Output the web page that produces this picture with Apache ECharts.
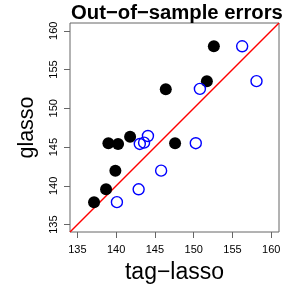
<!DOCTYPE html>
<html><head><meta charset="utf-8">
<script src="https://cdn.jsdelivr.net/npm/echarts@6/dist/echarts.min.js"></script>
<style>html,body{margin:0;padding:0;background:#fff}#c{width:291px;height:291px}</style>
</head><body><div id="c"></div>
<script>
const titleText = 'Out\u2212of\u2212sample errors';
const xName = 'tag\u2212lasso';
const yName = 'glasso';
const limits = [134.05, 161.0];
const tickValues = [135, 140, 145, 150, 155, 160];
const blackX = [137.15, 138.7, 139.9, 139.0, 140.25, 141.8, 146.4, 147.6, 151.7, 152.6];
const blackY = [137.9, 139.56, 141.96, 145.5, 145.4, 146.34, 152.45, 145.5, 153.5, 158.0];
const blueX = [140.1, 142.9, 145.8, 143.05, 143.6, 144.1, 150.27, 150.8, 156.25, 158.1];
const blueY = [137.9, 139.56, 141.96, 145.4, 145.57, 146.43, 145.5, 152.5, 158.0, 153.5];

const FONT = 'Liberation Sans, Arial, Helvetica, sans-serif';
const chart = echarts.init(document.getElementById('c'), null, {renderer: 'canvas'});
const axisCommon = {
  min: limits[0], max: limits[1],
  axisLine: {show: false},
  splitLine: {show: false},
  axisTick: {show: true, length: 6, lineStyle: {color: '#666', width: 1}, customValues: tickValues},
  nameLocation: 'middle'
};
chart.setOption({
  animation: false,
  title: {text: titleText, left: 66, top: -2, textStyle: {fontFamily: FONT, fontWeight: 'bold', fontSize: 20.3, color: '#000'}},
  grid: {left: 70, right: 12, top: 23, bottom: 59, show: true, borderColor: '#666', borderWidth: 1, backgroundColor: 'transparent'},
  xAxis: Object.assign({}, axisCommon, {
    type: 'value', name: xName, nameGap: 29,
    nameTextStyle: {fontFamily: FONT, fontSize: 23, color: '#000'},
    axisLabel: {customValues: tickValues, margin: 12, fontFamily: FONT, fontSize: 11, color: '#000'}
  }),
  yAxis: Object.assign({}, axisCommon, {
    type: 'value', name: yName, nameGap: 32, nameRotate: 90,
    nameTextStyle: {fontFamily: FONT, fontSize: 21.5, color: '#000'},
    axisLabel: {customValues: tickValues, rotate: 90, margin: 11, fontFamily: FONT, fontSize: 11, color: '#000'}
  }),
  series: [
    {type: 'line', data: [[limits[0], limits[0]], [limits[1], limits[1]]], symbol: 'none', lineStyle: {color: '#ff0000', width: 1.5}, z: 1},
    {type: 'scatter', data: blackX.map((x, i) => [x, blackY[i]]), symbol: 'circle', symbolSize: 12, itemStyle: {color: '#000', opacity: 1}, z: 2},
    {type: 'scatter', data: blueX.map((x, i) => [x, blueY[i]]), symbol: 'circle', symbolSize: 11, itemStyle: {color: 'rgba(0,0,0,0)', borderColor: '#0000ff', borderWidth: 1.4, opacity: 1}, z: 3}
  ]
});
</script></body></html>
